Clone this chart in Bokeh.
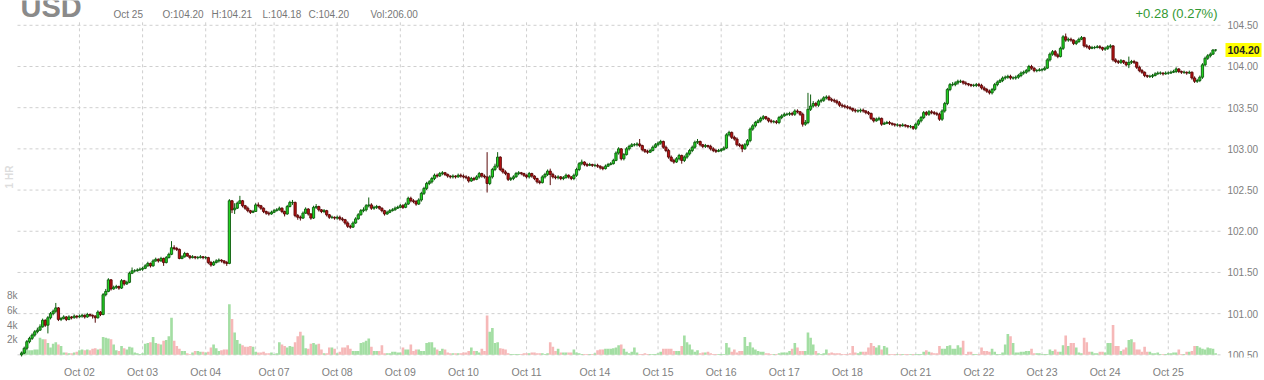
import math
from bokeh.plotting import figure
from bokeh.models import ColumnDataSource, Range1d, FixedTicker
from bokeh.core.properties import value
from bokeh.embed import file_html
from bokeh.resources import INLINE

symbol = "USD"
interval = "1 HR"
day_labels = ["Oct 01", "Oct 02", "Oct 03", "Oct 04", "", "Oct 07", "Oct 08", "Oct 09", "Oct 10", "Oct 11", "",
              "Oct 14", "Oct 15", "Oct 16", "Oct 17", "Oct 18", "", "Oct 21", "Oct 22", "Oct 23", "Oct 24", "Oct 25"]
day_bars = [22, 24, 24, 19, 7, 24, 24, 24, 24, 19, 7, 24, 24, 24, 24, 19, 7, 24, 24, 24, 24, 19]
first_open = 100.50
price_ticks = [100.5, 101.0, 101.5, 102.0, 102.5, 103.0, 103.5, 104.0, 104.5]
volume_ticks = [2000, 4000, 6000, 8000]
volume_tick_labels = ["2k", "4k", "6k", "8k"]

close = [
    100.52, 100.58, 100.66, 100.70, 100.74, 100.78, 100.80, 100.84, 100.92, 100.86, 100.95, 101.00, 101.03, 101.07, 100.93, 100.94, 100.96, 100.93, 100.96, 100.95, 100.97, 100.96,
    100.97, 100.98, 100.96, 100.99, 100.98, 100.97, 100.95, 101.02, 100.99, 101.23, 101.27, 101.41, 101.30, 101.32, 101.33, 101.31, 101.40, 101.36, 101.38, 101.49, 101.52, 101.52, 101.53, 101.54,
    101.55, 101.58, 101.61, 101.58, 101.64, 101.66, 101.64, 101.67, 101.62, 101.68, 101.72, 101.80, 101.79, 101.78, 101.67, 101.69, 101.73, 101.70, 101.68, 101.69, 101.68, 101.68, 101.69, 101.68,
    101.68, 101.62, 101.59, 101.62, 101.64, 101.65, 101.64, 101.62, 101.61, 102.37, 102.26, 102.28, 102.34, 102.37, 102.31, 102.28, 102.25, 102.23, 102.24,
    102.32, 102.31, 102.28, 102.24, 102.22, 102.21, 102.23,
    102.25, 102.26, 102.28, 102.24, 102.21, 102.30, 102.35, 102.35, 102.19, 102.17, 102.16, 102.22, 102.27, 102.21, 102.16, 102.29, 102.30, 102.26, 102.24, 102.25, 102.20, 102.17, 102.17, 102.16,
    102.17, 102.15, 102.14, 102.10, 102.06, 102.05, 102.10, 102.15, 102.20, 102.25, 102.26, 102.31, 102.32, 102.28, 102.29, 102.30, 102.28, 102.25, 102.21, 102.23, 102.25, 102.26, 102.28, 102.29,
    102.31, 102.29, 102.33, 102.40, 102.37, 102.36, 102.33, 102.38, 102.46, 102.52, 102.58, 102.60, 102.64, 102.68, 102.67, 102.70, 102.71, 102.69, 102.67, 102.66, 102.67, 102.66, 102.68, 102.67,
    102.66, 102.65, 102.61, 102.64, 102.63, 102.66, 102.70, 102.67, 102.66, 102.58, 102.66, 102.75, 102.79, 102.90, 102.75, 102.72, 102.70, 102.63, 102.64, 102.66, 102.70, 102.71, 102.70, 102.68,
    102.66, 102.70, 102.67, 102.64, 102.60, 102.59, 102.66, 102.69, 102.73, 102.69, 102.66, 102.65, 102.66, 102.64, 102.65, 102.68, 102.66, 102.64, 102.68,
    102.75, 102.82, 102.84, 102.81, 102.80, 102.81, 102.80,
    102.80, 102.79, 102.77, 102.76, 102.79, 102.81, 102.82, 102.86, 102.95, 103.00, 102.88, 102.93, 103.00, 103.03, 103.05, 103.05, 103.06, 103.04, 102.99, 102.97, 102.96, 102.98, 103.02, 103.05,
    103.07, 103.09, 103.02, 102.98, 102.90, 102.86, 102.84, 102.88, 102.92, 102.86, 102.90, 102.94, 102.98, 103.02, 103.08, 103.09, 103.05, 103.03, 103.04, 103.03, 103.00, 102.98, 102.97, 102.98,
    102.99, 103.01, 103.17, 103.20, 103.14, 103.12, 103.05, 103.04, 103.00, 103.05, 103.10, 103.24, 103.28, 103.32, 103.34, 103.37, 103.39, 103.37, 103.34, 103.33, 103.33, 103.32, 103.38, 103.40,
    103.42, 103.42, 103.43, 103.42, 103.46, 103.45, 103.42, 103.30, 103.32, 103.48, 103.52, 103.55, 103.53, 103.58, 103.59, 103.62, 103.63, 103.60, 103.59, 103.58, 103.56, 103.53, 103.52, 103.51,
    103.50, 103.49, 103.47, 103.46, 103.46, 103.47, 103.46, 103.44, 103.43, 103.37, 103.34, 103.36, 103.37, 103.30, 103.31, 103.32, 103.31, 103.30, 103.29,
    103.29, 103.28, 103.29, 103.28, 103.27, 103.27, 103.25,
    103.30, 103.34, 103.38, 103.44, 103.42, 103.45, 103.44, 103.43, 103.42, 103.36, 103.46, 103.55, 103.72, 103.78, 103.78, 103.80, 103.82, 103.82, 103.80, 103.79, 103.78, 103.77, 103.77, 103.78,
    103.77, 103.74, 103.72, 103.70, 103.68, 103.72, 103.78, 103.81, 103.83, 103.86, 103.87, 103.88, 103.86, 103.86, 103.87, 103.89, 103.92, 103.93, 103.95, 104.00, 103.98, 103.95, 103.95, 103.96,
    103.96, 103.98, 104.08, 104.15, 104.18, 104.14, 104.12, 104.22, 104.36, 104.32, 104.33, 104.32, 104.28, 104.30, 104.33, 104.35, 104.25, 104.24, 104.22, 104.23, 104.23, 104.24, 104.23, 104.21,
    104.22, 104.24, 104.25, 104.08, 104.06, 104.05, 104.07, 104.05, 104.02, 104.05, 104.06, 104.05, 103.99, 103.95, 103.93, 103.89, 103.88, 103.88, 103.89, 103.91, 103.92, 103.92, 103.91, 103.92,
    103.92, 103.93, 103.94, 103.97, 103.94, 103.93, 103.93, 103.92, 103.93, 103.86, 103.82, 103.83, 103.87, 104.02, 104.10, 104.13, 104.15, 104.20, 104.20,
]

high = [
    100.54, 100.60, 100.68, 100.72, 100.76, 100.80, 100.83, 100.87, 100.94, 100.93, 100.97, 101.02, 101.05, 101.13, 101.08, 100.96, 100.98, 100.97, 100.98, 100.97, 100.99, 100.98,
    100.99, 101.00, 100.99, 101.01, 101.00, 100.99, 100.98, 101.04, 101.03, 101.25, 101.30, 101.43, 101.42, 101.34, 101.35, 101.34, 101.42, 101.41, 101.40, 101.51, 101.56, 101.54, 101.55, 101.56,
    101.57, 101.60, 101.63, 101.62, 101.66, 101.68, 101.67, 101.69, 101.68, 101.70, 101.74, 101.88, 101.83, 101.81, 101.79, 101.71, 101.75, 101.74, 101.71, 101.71, 101.70, 101.70, 101.71, 101.70,
    101.70, 101.69, 101.64, 101.64, 101.66, 101.67, 101.66, 101.65, 101.64, 102.39, 102.38, 102.34, 102.36, 102.43, 102.38, 102.32, 102.30, 102.26, 102.26,
    102.34, 102.35, 102.32, 102.29, 102.25, 102.24, 102.25,
    102.27, 102.28, 102.30, 102.29, 102.25, 102.32, 102.37, 102.38, 102.36, 102.21, 102.19, 102.24, 102.29, 102.28, 102.22, 102.31, 102.33, 102.31, 102.27, 102.27, 102.26, 102.21, 102.19, 102.18,
    102.19, 102.19, 102.17, 102.15, 102.12, 102.08, 102.12, 102.17, 102.22, 102.27, 102.29, 102.33, 102.41, 102.34, 102.31, 102.32, 102.31, 102.29, 102.26, 102.25, 102.27, 102.28, 102.30, 102.31,
    102.33, 102.33, 102.35, 102.42, 102.42, 102.39, 102.38, 102.40, 102.48, 102.54, 102.60, 102.62, 102.66, 102.70, 102.70, 102.72, 102.73, 102.72, 102.70, 102.68, 102.69, 102.68, 102.70, 102.70,
    102.69, 102.68, 102.67, 102.66, 102.66, 102.68, 102.72, 102.71, 102.69, 102.96, 102.68, 102.77, 102.82, 102.96, 102.91, 102.77, 102.74, 102.71, 102.66, 102.68, 102.72, 102.73, 102.72, 102.71,
    102.69, 102.72, 102.71, 102.68, 102.65, 102.62, 102.68, 102.71, 102.75, 102.76, 102.71, 102.68, 102.68, 102.67, 102.67, 102.70, 102.69, 102.67, 102.70,
    102.77, 102.84, 102.87, 102.85, 102.83, 102.83, 102.82,
    102.82, 102.82, 102.80, 102.79, 102.81, 102.83, 102.84, 102.88, 102.97, 103.02, 103.01, 102.95, 103.02, 103.05, 103.07, 103.07, 103.08, 103.12, 103.05, 103.00, 102.99, 103.00, 103.04, 103.07,
    103.09, 103.11, 103.10, 103.04, 103.00, 102.92, 102.88, 102.90, 102.94, 102.93, 102.92, 102.96, 103.00, 103.04, 103.10, 103.12, 103.10, 103.06, 103.06, 103.05, 103.05, 103.02, 103.00, 103.00,
    103.01, 103.03, 103.19, 103.22, 103.21, 103.16, 103.14, 103.07, 103.06, 103.07, 103.12, 103.26, 103.30, 103.34, 103.36, 103.39, 103.41, 103.40, 103.38, 103.36, 103.35, 103.35, 103.40, 103.42,
    103.44, 103.44, 103.45, 103.45, 103.48, 103.48, 103.46, 103.44, 103.35, 103.68, 103.66, 103.58, 103.57, 103.60, 103.61, 103.64, 103.65, 103.65, 103.62, 103.61, 103.60, 103.58, 103.55, 103.54,
    103.53, 103.52, 103.50, 103.49, 103.48, 103.49, 103.49, 103.47, 103.46, 103.44, 103.38, 103.38, 103.39, 103.38, 103.33, 103.34, 103.34, 103.32, 103.31,
    103.31, 103.30, 103.31, 103.30, 103.29, 103.29, 103.28,
    103.32, 103.36, 103.40, 103.46, 103.46, 103.47, 103.47, 103.46, 103.45, 103.44, 103.48, 103.57, 103.74, 103.80, 103.81, 103.82, 103.84, 103.84, 103.83, 103.82, 103.80, 103.79, 103.79, 103.80,
    103.80, 103.79, 103.76, 103.74, 103.72, 103.74, 103.80, 103.83, 103.85, 103.88, 103.89, 103.90, 103.90, 103.88, 103.89, 103.91, 103.94, 103.95, 103.97, 104.02, 104.02, 103.99, 103.97, 103.98,
    103.98, 104.00, 104.10, 104.17, 104.20, 104.20, 104.16, 104.24, 104.38, 104.40, 104.35, 104.35, 104.33, 104.32, 104.35, 104.37, 104.36, 104.27, 104.26, 104.25, 104.25, 104.26, 104.26, 104.24,
    104.24, 104.26, 104.27, 104.26, 104.10, 104.08, 104.09, 104.08, 104.06, 104.12, 104.08, 104.08, 104.06, 104.01, 103.97, 103.94, 103.90, 103.90, 103.91, 103.93, 103.94, 103.94, 103.93, 103.94,
    103.94, 103.95, 103.96, 103.99, 103.98, 103.95, 103.95, 103.94, 103.95, 103.94, 103.88, 103.85, 103.89, 104.04, 104.12, 104.15, 104.17, 104.21, 104.21,
]

low = [
    100.48, 100.51, 100.56, 100.64, 100.68, 100.72, 100.76, 100.79, 100.83, 100.84, 100.76, 100.93, 100.98, 101.01, 100.91, 100.91, 100.93, 100.91, 100.92, 100.93, 100.94, 100.94,
    100.95, 100.95, 100.94, 100.95, 100.96, 100.94, 100.89, 100.94, 100.97, 100.98, 101.21, 101.26, 101.28, 101.29, 101.30, 101.29, 101.30, 101.34, 101.35, 101.37, 101.48, 101.50, 101.51, 101.52,
    101.52, 101.54, 101.57, 101.56, 101.57, 101.63, 101.62, 101.63, 101.58, 101.61, 101.67, 101.71, 101.77, 101.76, 101.66, 101.66, 101.68, 101.69, 101.66, 101.67, 101.66, 101.66, 101.67, 101.66,
    101.66, 101.60, 101.57, 101.58, 101.61, 101.62, 101.62, 101.60, 101.58, 101.60, 102.22, 102.21, 102.27, 102.33, 102.29, 102.26, 102.23, 102.21, 102.22,
    102.24, 102.29, 102.26, 102.22, 102.20, 102.19, 102.20,
    102.22, 102.24, 102.25, 102.22, 102.18, 102.20, 102.29, 102.32, 102.17, 102.14, 102.13, 102.15, 102.21, 102.19, 102.14, 102.15, 102.27, 102.24, 102.22, 102.22, 102.18, 102.15, 102.15, 102.14,
    102.14, 102.13, 102.12, 102.08, 102.04, 102.03, 102.04, 102.09, 102.14, 102.19, 102.23, 102.24, 102.29, 102.26, 102.26, 102.27, 102.26, 102.23, 102.19, 102.20, 102.22, 102.24, 102.25, 102.27,
    102.28, 102.27, 102.28, 102.32, 102.35, 102.34, 102.31, 102.32, 102.36, 102.44, 102.50, 102.56, 102.58, 102.62, 102.65, 102.66, 102.68, 102.67, 102.65, 102.64, 102.64, 102.64, 102.65, 102.65,
    102.64, 102.63, 102.59, 102.60, 102.61, 102.62, 102.64, 102.65, 102.64, 102.47, 102.56, 102.64, 102.73, 102.77, 102.73, 102.70, 102.68, 102.61, 102.61, 102.62, 102.65, 102.68, 102.68, 102.66,
    102.64, 102.64, 102.65, 102.62, 102.58, 102.57, 102.58, 102.64, 102.67, 102.56, 102.64, 102.63, 102.63, 102.62, 102.62, 102.64, 102.64, 102.62, 102.62,
    102.66, 102.73, 102.80, 102.79, 102.78, 102.79, 102.78,
    102.78, 102.77, 102.75, 102.74, 102.75, 102.78, 102.80, 102.81, 102.85, 102.93, 102.86, 102.86, 102.92, 102.98, 103.02, 103.03, 103.03, 103.02, 102.97, 102.95, 102.94, 102.95, 102.97, 103.01,
    103.03, 103.05, 103.00, 102.96, 102.88, 102.84, 102.82, 102.83, 102.86, 102.82, 102.84, 102.88, 102.92, 102.96, 103.00, 103.06, 103.03, 103.01, 103.01, 103.01, 102.98, 102.96, 102.95, 102.96,
    102.96, 102.98, 103.00, 103.15, 103.12, 103.10, 103.03, 103.02, 102.96, 102.99, 103.03, 103.08, 103.22, 103.26, 103.31, 103.32, 103.35, 103.35, 103.32, 103.31, 103.31, 103.30, 103.30, 103.36,
    103.39, 103.40, 103.40, 103.40, 103.40, 103.43, 103.40, 103.27, 103.28, 103.30, 103.46, 103.50, 103.51, 103.51, 103.56, 103.57, 103.60, 103.58, 103.57, 103.56, 103.54, 103.51, 103.50, 103.49,
    103.48, 103.47, 103.45, 103.44, 103.44, 103.44, 103.44, 103.42, 103.41, 103.35, 103.32, 103.33, 103.34, 103.28, 103.29, 103.30, 103.29, 103.28, 103.27,
    103.27, 103.26, 103.27, 103.26, 103.25, 103.25, 103.23,
    103.23, 103.28, 103.32, 103.36, 103.40, 103.40, 103.42, 103.41, 103.40, 103.34, 103.34, 103.44, 103.53, 103.70, 103.76, 103.76, 103.78, 103.80, 103.78, 103.77, 103.76, 103.75, 103.75, 103.75,
    103.75, 103.72, 103.70, 103.68, 103.66, 103.66, 103.70, 103.76, 103.80, 103.81, 103.84, 103.85, 103.84, 103.84, 103.84, 103.85, 103.87, 103.90, 103.91, 103.93, 103.96, 103.93, 103.93, 103.94,
    103.94, 103.95, 103.97, 104.06, 104.13, 104.12, 104.10, 104.11, 104.20, 104.30, 104.30, 104.30, 104.26, 104.26, 104.29, 104.32, 104.23, 104.22, 104.20, 104.21, 104.21, 104.22, 104.21, 104.19,
    104.19, 104.20, 104.22, 104.06, 104.04, 104.03, 104.03, 104.03, 104.00, 103.98, 104.03, 104.03, 103.97, 103.93, 103.91, 103.87, 103.86, 103.86, 103.86, 103.88, 103.90, 103.90, 103.89, 103.90,
    103.90, 103.91, 103.92, 103.92, 103.92, 103.91, 103.91, 103.90, 103.91, 103.84, 103.80, 103.80, 103.81, 103.85, 104.00, 104.08, 104.11, 104.14, 104.18,
]

volume = [
    400, 600, 700, 600, 600, 700, 700, 2300, 2100, 2100, 1600, 1000, 1500, 1700, 1400, 1200, 300, 300, 200, 200, 300, 400,
    600, 700, 600, 700, 600, 800, 900, 700, 800, 2400, 2300, 2200, 2100, 1400, 600, 500, 1200, 900, 700, 1100, 1000, 300, 200, 100,
    200, 1500, 1600, 1700, 2400, 1600, 1500, 1400, 1900, 2000, 2500, 5000, 1900, 1200, 800, 500, 500, 200, 100, 300, 500, 500, 400, 400,
    300, 400, 1000, 1400, 900, 500, 600, 700, 700, 6800, 4800, 3000, 2000, 1500, 1300, 1100, 1100, 1200, 1100,
    400, 300, 300, 400, 200, 200, 300,
    100, 200, 1700, 1400, 1200, 1000, 1200, 1100, 1700, 2500, 3100, 2600, 900, 800, 1500, 1600, 1400, 1500, 700, 200, 200, 1000, 1000, 800,
    200, 400, 1000, 1000, 1300, 800, 500, 500, 500, 1600, 1700, 1900, 2200, 1100, 500, 500, 500, 1300, 200, 200, 200, 400, 400, 300,
    300, 1000, 700, 700, 1400, 500, 700, 700, 500, 500, 1600, 1700, 1700, 1000, 700, 500, 800, 700, 300, 200, 200, 200, 200, 200,
    300, 300, 500, 1000, 500, 500, 300, 800, 500, 5300, 3100, 3600, 1600, 1700, 900, 800, 700, 200, 100, 100, 100, 100, 100, 200,
    200, 200, 300, 300, 200, 200, 200, 100, 200, 1700, 1100, 500, 800, 300, 300, 300, 300, 300, 700,
    300, 200, 100, 100, 100, 100, 100,
    200, 600, 700, 700, 800, 800, 800, 900, 1000, 1300, 1400, 800, 400, 200, 400, 1000, 300, 100, 100, 200, 100, 100, 100, 100,
    200, 400, 800, 800, 800, 800, 500, 500, 500, 1200, 2600, 1700, 1400, 700, 400, 600, 200, 300, 300, 400, 200, 100, 100, 100,
    100, 100, 1600, 1000, 400, 700, 300, 500, 500, 2400, 1200, 1700, 1000, 700, 500, 400, 400, 200, 200, 100, 100, 100, 200, 300,
    300, 300, 500, 800, 1600, 1000, 500, 500, 500, 3000, 2300, 1400, 500, 200, 100, 200, 700, 200, 300, 200, 200, 200, 100, 100,
    100, 200, 1200, 300, 200, 400, 400, 400, 1000, 1600, 1200, 1000, 1300, 700, 1200, 1000, 100, 100, 100,
    100, 100, 100, 100, 100, 100, 100,
    100, 100, 100, 400, 600, 400, 300, 200, 200, 1200, 800, 800, 1200, 1300, 800, 800, 1300, 1000, 1900, 100, 400, 400, 100, 100,
    100, 1000, 500, 500, 400, 800, 400, 100, 100, 300, 1400, 2800, 2500, 1600, 300, 300, 400, 400, 500, 500, 800, 200, 200, 200,
    100, 100, 100, 700, 500, 700, 400, 400, 1300, 2600, 1200, 1600, 1600, 1000, 300, 200, 2300, 1700, 400, 400, 200, 200, 400, 400,
    300, 1600, 1600, 4000, 1200, 1200, 500, 700, 1000, 2000, 2100, 1700, 700, 700, 400, 1100, 400, 400, 200, 200, 300, 100, 100, 100,
    200, 200, 300, 300, 700, 100, 100, 400, 400, 500, 1200, 1200, 1000, 800, 700, 1000, 900, 800, 206,
]

# ---------------------------------------------------------------- derived values
n = min(len(close), len(high), len(low), len(volume))
idx = list(range(n))
opens = [first_open] + close[:n - 1]
hi = [max(high[i], opens[i], close[i]) for i in idx]
lo = [min(low[i], opens[i], close[i]) for i in idx]
is_up = [close[i] >= opens[i] for i in idx]

starts = []
acc = 0
for b in day_bars:
    starts.append(acc)
    acc += b
tick_pos = starts[1:]
tick_text = {s: lab for s, lab in zip(starts[1:], day_labels[1:])}

# ---------------------------------------------------------------- page geometry (pixels)
W, H = 1264, 380
BAR_PX, X0_PX = 2.63, 21.1           # pixel spacing of hourly bars, pixel of first bar
TOP_TICK_PX, HALF_PX = 25.0, 41.54   # pixel of top price tick, pixels per 0.50
VOL0_PX, VOL_PX_PER_K = 357.3, 7.5   # pixel of zero volume, pixels per 1000
PLOT_L, PLOT_R, PLOT_T, PLOT_B = 17, 1220, 22, 360

def xd(px):
    return (px - X0_PX) / BAR_PX

def yd(py):
    return price_ticks[-1] - (py - TOP_TICK_PX) * 0.5 / HALF_PX

def vd(py):
    return (VOL0_PX - py) * 1000 / VOL_PX_PER_K

UP_FILL, UP_LINE = "#22d622", "#0d5c0d"
DN_FILL, DN_LINE = "#bb1111", "#5a0a0a"
VOL_UP, VOL_DN = "#a3dea3", "#f6b8b8"
FONT = "Liberation Sans"
GRAY = "#808080"
GRID = "#cfcfcf"

src = ColumnDataSource(dict(
    x=idx, high=hi, low=lo,
    top=[max(opens[i], close[i]) for i in idx],
    bottom=[min(opens[i], close[i]) for i in idx],
    vol=volume[:n],
    fill=[UP_FILL if u else DN_FILL for u in is_up],
    line=[UP_LINE if u else DN_LINE for u in is_up],
    vcol=[VOL_UP if u else VOL_DN for u in is_up],
))

p = figure(width=W, height=H, output_backend="svg", toolbar_location=None,
           x_range=Range1d(xd(0), xd(W)), y_range=Range1d(yd(PLOT_B), yd(0)),
           y_axis_location=None,
           min_border_left=0, min_border_right=0, min_border_top=0, min_border_bottom=H - PLOT_B)
p.extra_y_ranges = {"vol": Range1d(vd(PLOT_B), vd(0))}
p.outline_line_color = None
p.background_fill_color = "white"
p.border_fill_color = "white"
p.xgrid.visible = False
p.ygrid.visible = False

# grid lines limited to the chart area
k = len(tick_pos)
p.segment(x0=tick_pos, x1=tick_pos, y0=[yd(PLOT_T)] * k, y1=[yd(PLOT_B)] * k,
          line_color=GRID, line_dash="3 3", line_width=1)
m = len(price_ticks)
p.segment(x0=[xd(PLOT_L)] * m, x1=[xd(PLOT_R)] * m, y0=price_ticks, y1=price_ticks,
          line_color=GRID, line_dash="3 3", line_width=1)

# volume and candles
p.vbar(x="x", width=1.0, top="vol", bottom=0, y_range_name="vol", source=src,
       fill_color="vcol", line_color=None)
p.segment(x0="x", y0="high", x1="x", y1="low", source=src, line_color="line", line_width=1)
p.vbar(x="x", width=0.85, top="top", bottom="bottom", source=src,
       fill_color="fill", line_color="line", line_width=0.9)

# bottom date axis
ax = p.xaxis[0]
ax.ticker = FixedTicker(ticks=tick_pos)
ax.major_label_overrides = tick_text
ax.axis_line_color = None
ax.major_tick_line_color = None
ax.minor_tick_line_color = None
ax.major_label_text_color = GRAY
ax.major_label_text_font = FONT
ax.major_label_text_font_size = "10.5px"
ax.major_label_standoff = 2

# price labels (right) and volume labels (left)
p.text(x=[xd(1227)] * m, y=price_ticks, text=[f"{t:.2f}" for t in price_ticks],
       text_font=value(FONT), text_font_size=value("10px"), text_color=GRAY,
       text_align="left", text_baseline="middle")
p.text(x=[xd(17)] * len(volume_ticks), y=volume_ticks, y_range_name="vol", text=volume_tick_labels,
       text_font=value(FONT), text_font_size=value("10px"), text_color=GRAY,
       text_align="right", text_baseline="middle")

# last price tag
last = n - 1
tag_half = 7 * 0.5 / HALF_PX
p.quad(left=[xd(1225)], right=[xd(1261)], top=[close[last] + tag_half], bottom=[close[last] - tag_half],
       fill_color="#ffff00", line_color=None)
p.text(x=[xd(1227)], y=[close[last]], text=[f"{close[last]:.2f}"],
       text_font=value(FONT), text_font_size=value("10.5px"), text_font_style="bold",
       text_color="#222222", text_align="left", text_baseline="middle")

# header (vertical positions are text centres)
def hdr(text, px, py, size, color, style="normal", align="left", angle=0.0):
    p.text(x=[xd(px)], y=[yd(py)], text=[text], text_font=value(FONT), text_font_size=value(size),
           text_color=color, text_font_style=style, text_align=align, text_baseline="middle", angle=angle)

hdr(symbol, 20, 6.5, "29px", "#8a8a8a", style="bold")
hdr(day_labels[-1], 113, 14.3, "10px", "#777777")
hdr(f"O:{opens[last]:.2f}", 162, 14.3, "10px", "#777777")
hdr(f"H:{hi[last]:.2f}", 211, 14.3, "10px", "#777777")
hdr(f"L:{lo[last]:.2f}", 262, 14.3, "10px", "#777777")
hdr(f"C:{close[last]:.2f}", 308, 14.3, "10px", "#777777")
hdr(f"Vol:{volume[last]:.2f}", 370, 14.3, "10px", "#777777")
prev_close = close[starts[-1] - 1]
chg = close[last] - prev_close
hdr(f"{chg:+.2f} ({chg / prev_close * 100:.2f}%)", 1217, 13.3, "13px", "#339933", align="right")
hdr(interval, 9, 178, "10px", "#dddddd", style="bold", align="center", angle=math.pi / 2)

open("out.html", "w").write(file_html(p, INLINE))
